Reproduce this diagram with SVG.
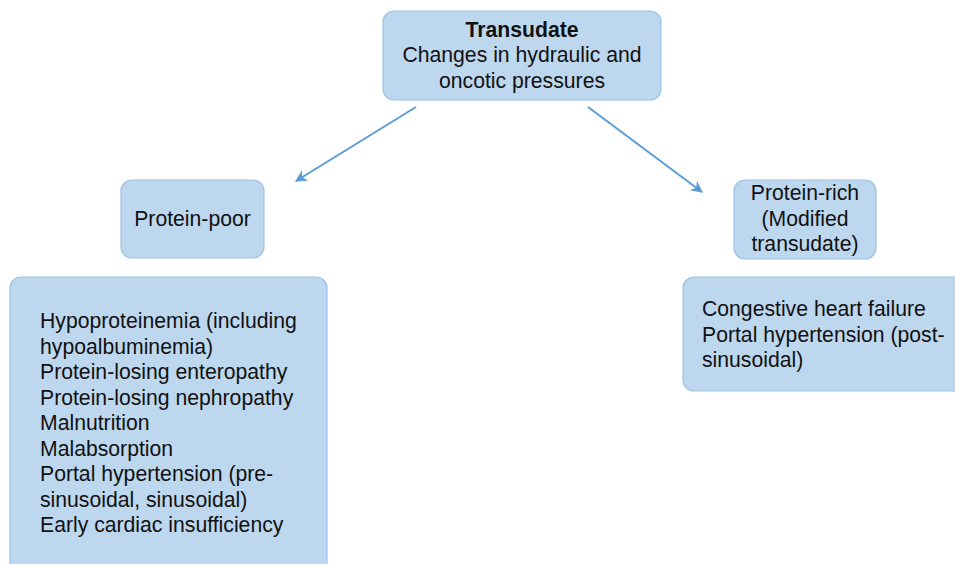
<svg xmlns="http://www.w3.org/2000/svg" width="955" height="564" viewBox="0 0 955 564">
<defs>
<style>
.box{fill:#bdd7ee;stroke:#9dc3e6;stroke-width:1.2}
text{font-family:"Liberation Sans",Arial,sans-serif;font-size:21.2px;fill:#111}
.c{text-anchor:middle}
.b{font-weight:bold}
.conn{stroke:#5b9bd5;stroke-width:2;fill:none;marker-end:url(#ah)}
</style>
<marker id="ah" viewBox="0 0 10 10" refX="9" refY="5" markerWidth="15" markerHeight="12" orient="auto" markerUnits="userSpaceOnUse">
<path d="M0,0 L10,5 L0,10 L3,5 Z" fill="#5b9bd5"/>
</marker>
</defs>
<rect width="955" height="564" fill="#fff"/>
<g id="connectors">
<line class="conn" x1="416" y1="107" x2="296" y2="181"/>
<line class="conn" x1="588" y1="107" x2="702" y2="192"/>
</g>
<g id="transudate">
<rect class="box" x="383" y="11" width="278" height="89" rx="11"/>
<text class="c b" x="522" y="37">Transudate</text>
<text class="c" x="522" y="62">Changes in hydraulic and</text>
<text class="c" x="522" y="88">oncotic pressures</text>
</g>
<g id="protein-poor">
<rect class="box" x="121" y="180" width="143" height="78" rx="11"/>
<text class="c" x="192.5" y="226">Protein-poor</text>
</g>
<g id="protein-rich">
<rect class="box" x="734" y="180" width="142" height="79" rx="11"/>
<text class="c" x="805" y="200">Protein-rich</text>
<text class="c" x="805" y="226">(Modified</text>
<text class="c" x="805" y="251">transudate)</text>
</g>
<g id="poor-causes">
<rect class="box" x="10" y="277" width="317" height="300" rx="11"/>
<text x="40" y="328">Hypoproteinemia (including</text>
<text x="40" y="354">hypoalbuminemia)</text>
<text x="40" y="379">Protein-losing enteropathy</text>
<text x="40" y="405">Protein-losing nephropathy</text>
<text x="40" y="430">Malnutrition</text>
<text x="40" y="456">Malabsorption</text>
<text x="40" y="481">Portal hypertension (pre-</text>
<text x="40" y="507">sinusoidal, sinusoidal)</text>
<text x="40" y="532">Early cardiac insufficiency</text>
</g>
<g id="rich-causes">
<rect class="box" x="683" y="277" width="290" height="114" rx="11"/>
<text x="702" y="316">Congestive heart failure</text>
<text x="702" y="342">Portal hypertension (post-</text>
<text x="702" y="367">sinusoidal)</text>
</g>
</svg>
